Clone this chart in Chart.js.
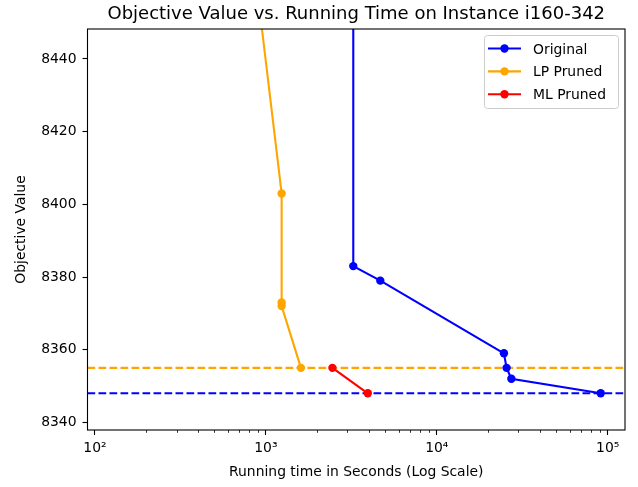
<!DOCTYPE html>
<html lang="en">
  <head>
    <meta charset="UTF-8" />
    <title>Objective Value vs. Running Time</title>
    <script src="https://cdn.jsdelivr.net/npm/chart.js"></script>
    <style>
      body { margin: 0; background: #fff; }
    </style>
  </head>
  <body>
    <canvas id="objChart" width="638" height="487"></canvas>
    <script>
      // running time (s) vs objective value, one pair of arrays per method
      const originalTimes = [3245, 3245, 4670, 24700, 25600, 27300, 91000];
      const originalValues = [8520, 8383, 8379, 8359, 8355, 8352, 8348];
      const lpTimes = [700, 1236, 1236, 1236, 1603];
      const lpValues = [8500, 8403, 8373, 8372, 8355];
      const mlTimes = [2450, 3945];
      const mlValues = [8355, 8348];

      // best values found -> dashed horizontal lines
      const bestOriginal = 8348;
      const bestLp = 8355;

      const xLimits = [90.4, 126200];
      const yLimits = [8337.9, 8448.25];
      const xMajorTicks = [100, 1000, 10000, 100000];
      const yTicks = [8340, 8360, 8380, 8400, 8420, 8440];

      const sup = { 2: "\u00b2", 3: "\u00b3", 4: "\u2074", 5: "\u2075" };
      const toPoints = (xs, ys) => xs.map((x, i) => ({ x: x, y: ys[i] }));
      const hline = (y) => toPoints(xLimits, [y, y]);

      Chart.defaults.font.family = "'DejaVu Sans', sans-serif";
      Chart.defaults.color = "#000";

      // matplotlib style box around the axes
      const frame = {
        id: "frame",
        afterDraw(chart) {
          const { ctx, chartArea: a } = chart;
          ctx.save();
          ctx.strokeStyle = "#000";
          ctx.lineWidth = 1.1;
          ctx.strokeRect(a.left, a.top, a.right - a.left, a.bottom - a.top);
          ctx.restore();
        },
      };

      // short unlabeled ticks between decades
      const minorTicks = {
        id: "minorTicks",
        afterDraw(chart) {
          const { ctx, chartArea: a } = chart;
          const xs = chart.scales.x;
          ctx.save();
          ctx.strokeStyle = "#000";
          ctx.lineWidth = 0.8;
          for (let e = 1; e <= 5; e++) {
            for (let m = 2; m <= 9; m++) {
              const v = m * Math.pow(10, e);
              if (v < xLimits[0] || v > xLimits[1]) continue;
              const px = Math.round(xs.getPixelForValue(v)) + 0.5;
              ctx.beginPath();
              ctx.moveTo(px, a.bottom);
              ctx.lineTo(px, a.bottom + 2.8);
              ctx.stroke();
            }
          }
          ctx.restore();
        },
      };

      // legend inside the axes, upper right
      const boxLegend = {
        id: "boxLegend",
        afterDraw(chart) {
          const { ctx, chartArea: a } = chart;
          const items = chart.data.datasets.filter((d) => d.label);
          const w = 134, h = 73;
          const left = a.right - 7 - w, top = a.top + 6;
          ctx.save();
          ctx.fillStyle = "rgba(255,255,255,0.8)";
          ctx.strokeStyle = "#cccccc";
          ctx.lineWidth = 1;
          ctx.beginPath();
          ctx.roundRect(left + 0.5, top + 0.5, w, h, 3);
          ctx.fill();
          ctx.stroke();
          ctx.font = "13.9px 'DejaVu Sans'";
          ctx.textBaseline = "alphabetic";
          items.forEach((d, i) => {
            const y = top + 13.5 + i * 22.9;
            ctx.strokeStyle = d.borderColor;
            ctx.lineWidth = 2.1;
            ctx.beginPath();
            ctx.moveTo(left + 4, y);
            ctx.lineTo(left + 37, y);
            ctx.stroke();
            ctx.fillStyle = d.borderColor;
            ctx.beginPath();
            ctx.arc(left + 20.5, y, 4.2, 0, Math.PI * 2);
            ctx.fill();
            ctx.fillStyle = "#000";
            ctx.fillText(d.label, left + 49, y + 5);
          });
          ctx.restore();
        },
      };

      const series = (label, color, data, order) => ({
        label: label,
        data: data,
        borderColor: color,
        backgroundColor: color,
        borderWidth: 2.1,
        pointRadius: 4.2,
        pointBorderWidth: 0,
        pointHoverRadius: 4.2,
        tension: 0,
        clip: 0,
        order: order,
      });

      const dashed = (color, y, order) => ({
        data: hline(y),
        borderColor: color,
        borderWidth: 2.1,
        borderDash: [7.7, 3.3],
        pointRadius: 0,
        clip: 0,
        order: order,
      });

      new Chart(document.getElementById("objChart"), {
        type: "line",
        data: {
          datasets: [
            series("Original", "#0000ff", toPoints(originalTimes, originalValues), 2),
            series("LP Pruned", "#ffa500", toPoints(lpTimes, lpValues), 1),
            series("ML Pruned", "#ff0000", toPoints(mlTimes, mlValues), 0),
            dashed("#0000ff", bestOriginal, 4),
            dashed("#ffa500", bestLp, 3),
          ],
        },
        options: {
          responsive: false,
          animation: false,
          events: [],
          layout: { padding: { left: 0, right: 13, top: 0, bottom: 0 } },
          plugins: {
            legend: { display: false },
            tooltip: { enabled: false },
            title: {
              display: true,
              fullSize: false,
              text: "Objective Value vs. Running Time on Instance i160-342",
              font: { size: 18, weight: "normal" },
              color: "#000",
              padding: { top: 3.7, bottom: 3.7 },
            },
          },
          scales: {
            x: {
              type: "logarithmic",
              min: xLimits[0],
              max: xLimits[1],
              afterBuildTicks: (s) => {
                s.ticks = xMajorTicks.map((v) => ({ value: v }));
              },
              afterFit: (s) => {
                s.height = 57;
              },
              ticks: {
                autoSkip: false,
                maxRotation: 0,
                padding: 5,
                font: { size: 13.9 },
                callback: (v) => "10" + sup[Math.round(Math.log10(v))],
              },
              grid: {
                drawOnChartArea: false,
                tickLength: 5,
                tickColor: "#000",
                tickWidth: 1.1,
              },
              border: { display: false },
              title: {
                display: true,
                text: "Running time in Seconds (Log Scale)",
                font: { size: 13.9 },
                padding: { top: 0, bottom: 6 },
              },
            },
            y: {
              type: "linear",
              min: yLimits[0],
              max: yLimits[1],
              afterBuildTicks: (s) => {
                s.ticks = yTicks.map((v) => ({ value: v }));
              },
              afterFit: (s) => {
                s.width = 87.5;
              },
              ticks: {
                padding: 6,
                font: { size: 13.9 },
                callback: (v) => String(v),
              },
              grid: {
                drawOnChartArea: false,
                tickLength: 5,
                tickColor: "#000",
                tickWidth: 1.1,
              },
              border: { display: false },
              title: {
                display: true,
                text: "Objective Value",
                font: { size: 13.9 },
                padding: { top: 13, bottom: 0 },
              },
            },
          },
        },
        plugins: [frame, minorTicks, boxLegend],
      });
    </script>
  </body>
</html>
